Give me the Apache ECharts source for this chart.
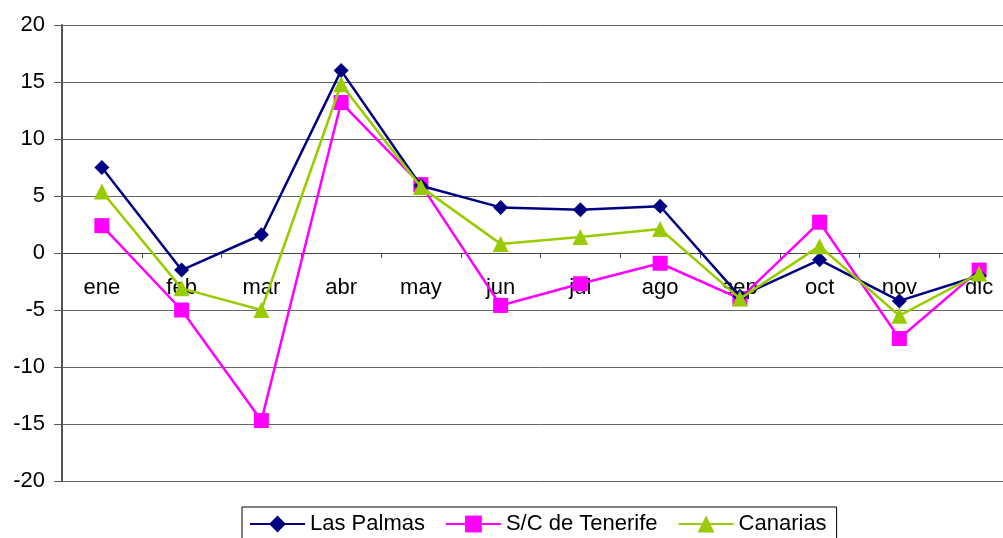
<!DOCTYPE html>
<html>
<head>
<meta charset="utf-8">
<script src="https://cdn.jsdelivr.net/npm/echarts@6/dist/echarts.min.js"></script>
<style>
html,body{margin:0;padding:0;background:#fff;overflow:hidden;}
#chart{width:1020px;height:538px;}
</style>
</head>
<body>
<div id="chart"></div>
<script>
var categories = ['ene','feb','mar','abr','may','jun','jul','ago','sep','oct','nov','dic'];
var lasPalmas = [7.5, -1.5, 1.6, 16.0, 5.9, 4.0, 3.8, 4.1, -3.8, -0.6, -4.2, -2.0];
var tenerife = [2.4, -5.0, -14.7, 13.2, 6.0, -4.6, -2.7, -0.9, -4.0, 2.7, -7.5, -1.5];
var canarias = [5.4, -3.1, -5.0, 14.8, 5.8, 0.8, 1.4, 2.1, -4.0, 0.6, -5.5, -1.8];
var yTicks = { min: -20, max: 20, interval: 5 };

var chart = echarts.init(document.getElementById('chart'), null, {renderer: 'canvas'});
var font = 'Liberation Sans, Arial, sans-serif';
chart.setOption({
  animation: false,
  backgroundColor: '#fff',
  grid: { left: 62, top: 25, right: 1, bottom: 57 },
  legend: {
    left: 242, top: 507,
    padding: [6, 10, 14, 7],
    itemGap: 20,
    itemWidth: 55, itemHeight: 21,
    borderColor: '#000', borderWidth: 1,
    textStyle: { fontFamily: font, fontSize: 22, lineHeight: 22, color: '#000' },
    data: ['Las Palmas', 'S/C de Tenerife', 'Canarias']
  },
  xAxis: {
    type: 'category',
    data: categories,
    boundaryGap: true,
    offset: -228,
    axisLine: { onZero: false, lineStyle: { color: '#444', width: 1 } },
    axisTick: { show: true, length: 5, inside: false, lineStyle: { color: '#444' } },
    axisLabel: { fontFamily: font, fontSize: 22, lineHeight: 22, color: '#000', margin: 24 },
    splitLine: { show: false }
  },
  yAxis: {
    type: 'value',
    min: yTicks.min, max: yTicks.max, interval: yTicks.interval,
    axisLine: { show: true, lineStyle: { color: '#555', width: 2 } },
    axisTick: { show: true, length: 8, lineStyle: { color: '#555' } },
    axisLabel: { fontFamily: font, fontSize: 22, color: '#000', margin: 17 },
    splitLine: { show: true, lineStyle: { color: '#666', width: 1 } }
  },
  series: [
    { name: 'Las Palmas', type: 'line', data: lasPalmas, symbol: 'diamond', symbolSize: 15,
      itemStyle: { color: '#000080' }, lineStyle: { color: '#000080', width: 2.5 }, z: 3 },
    { name: 'S/C de Tenerife', type: 'line', data: tenerife, symbol: 'rect', symbolSize: 15,
      itemStyle: { color: '#FF00FF' }, lineStyle: { color: '#FF00FF', width: 2.5 }, z: 2 },
    { name: 'Canarias', type: 'line', data: canarias, symbol: 'triangle', symbolSize: 16,
      itemStyle: { color: '#99CC00' }, lineStyle: { color: '#99CC00', width: 2.5 }, z: 4 }
  ]
});
</script>
</body>
</html>
